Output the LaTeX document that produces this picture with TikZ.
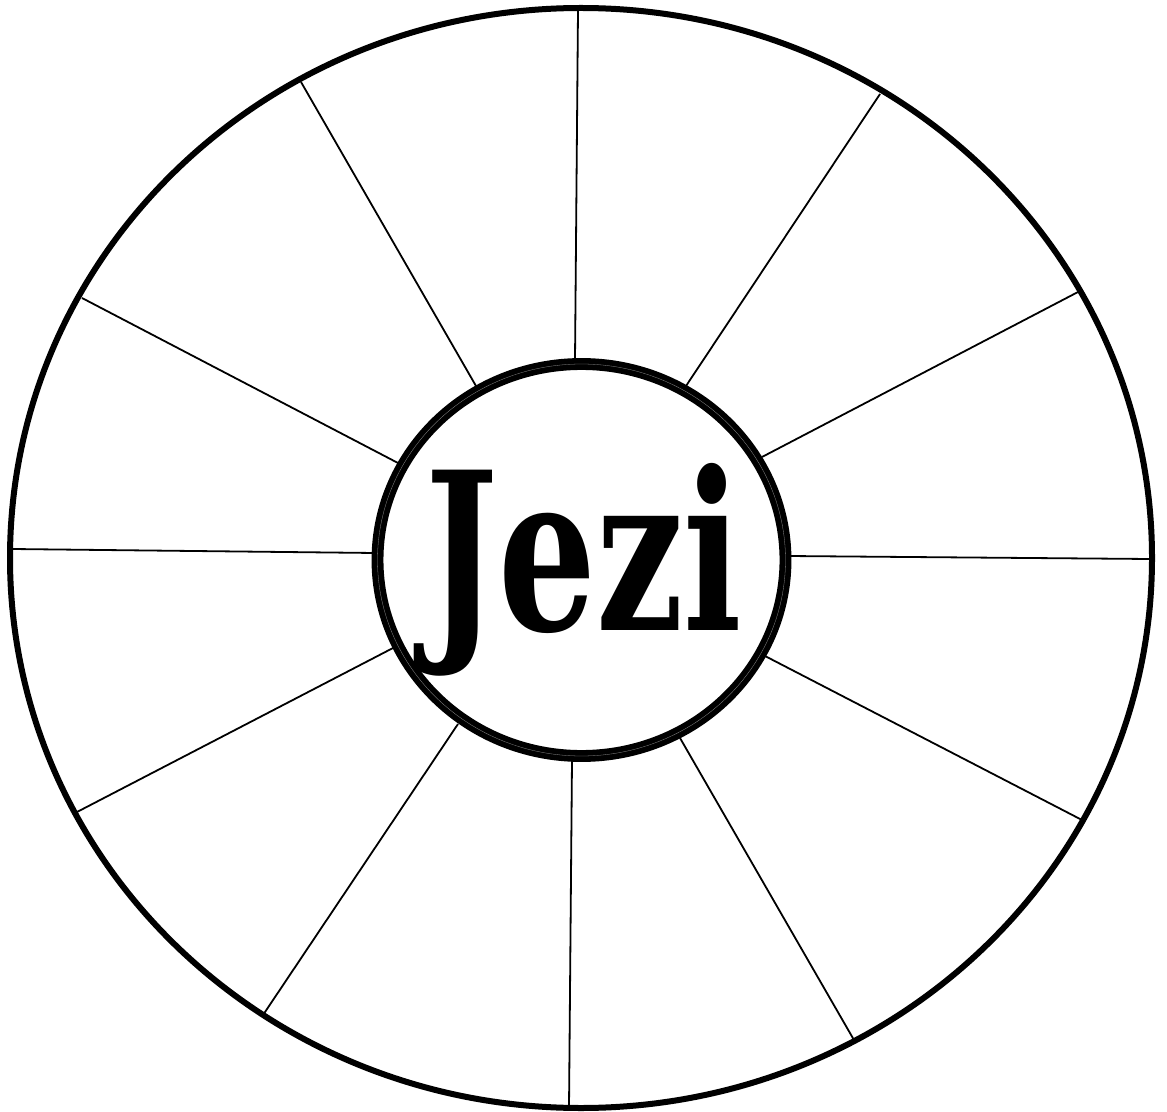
\documentclass[tikz,border=0pt]{standalone}
\usepackage{fontspec}
\newfontfamily\hubfont{DejaVu Serif}
\usetikzlibrary{calc}

\begin{document}
\begin{tikzpicture}[x=0.5pt,y=-0.5pt]
  \useasboundingbox (0,0) rectangle (1167,1112);
  % spokes
  \foreach \xa/\ya/\xb/\yb in {578/10/575/360, 301/82/476/386, 880/94/686/386,
      82/298/398/463, 1078/292/762/457, 12/549/375/553, 788/556/1150/559,
      393/648/77/812, 765/656/1082/820, 458/724/263/1015, 680/738/854/1040,
      572/760/569/1108}
    \draw[line width=0.9pt] (\xa,\ya) -- (\xb,\yb);
  % rim
  \draw[line width=3pt] (581,558) ellipse [x radius=571, y radius=550];
  % hub
  \draw[line width=2.9pt,double=black!45,double distance=0.15pt,fill=white]
    (581.5,560) ellipse [x radius=204, y radius=196];
  \node[font=\fontsize{110}{110}\hubfont\bfseries,inner sep=0pt,xscale=0.7,anchor=base] (hub) at (584,630) {Jezi};
\end{tikzpicture}
\end{document}
